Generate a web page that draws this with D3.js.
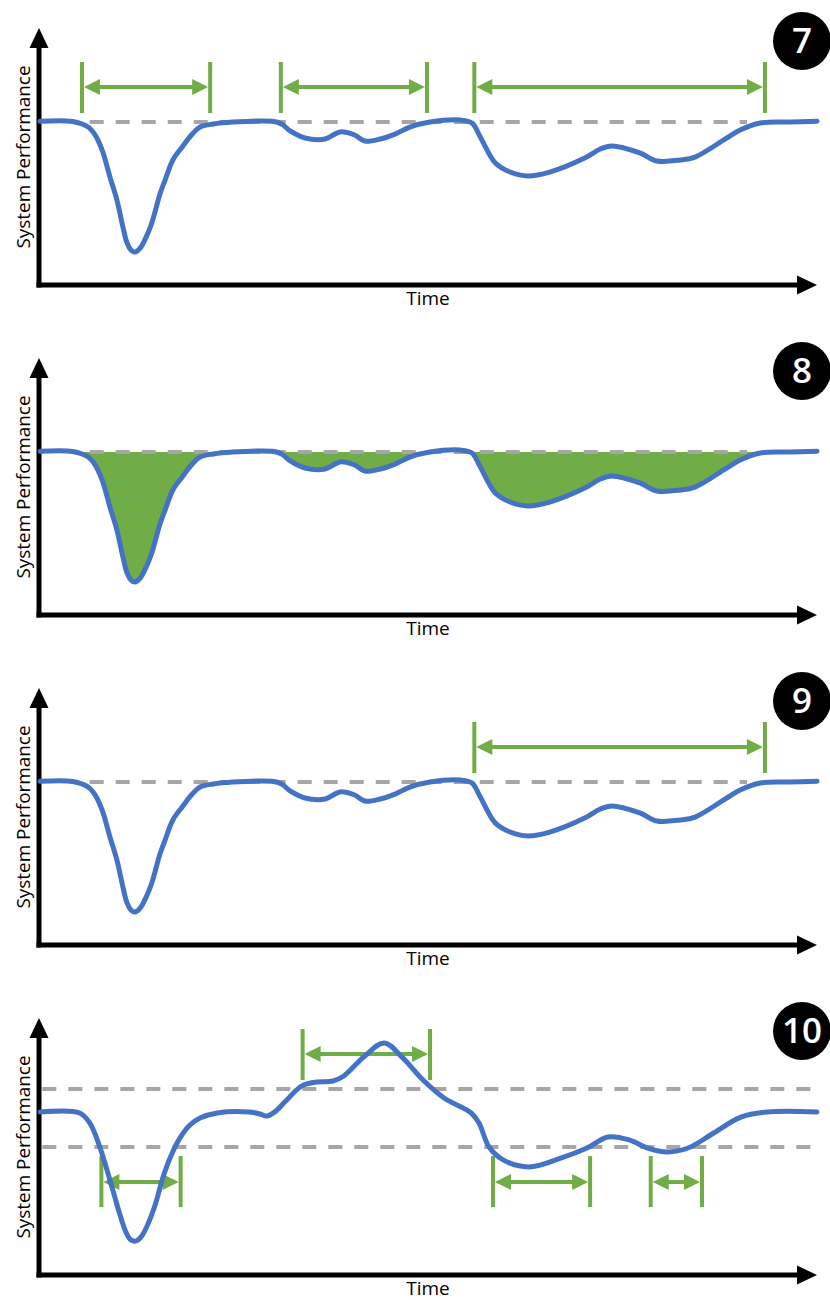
<!DOCTYPE html>
<html>
<head>
  <meta charset="utf-8">
  <title>System Performance over Time</title>
  <style>
    body { margin: 0; background: #ffffff; }
    svg { display: block; }
    text { font-family: "Open Sans", "Noto Sans", sans-serif; }
  </style>
</head>
<body>
  <div id="chart"></div>

  <script src="https://d3js.org/d3.v7.min.js"></script>
  <script>
    // Performance curve used by panels 7, 8 and 9 (time 0-100, target level = 100)
    var curveTime = [0, 4.2, 6.2, 7.1, 8.0, 9.0, 9.9, 10.7, 11.2, 11.7, 12.2, 12.9, 13.6, 14.3, 14.8,
      15.4, 16.1, 17.1, 18.3, 19.6, 20.6, 22.3, 24.8, 29.9, 31.1, 32.2, 34.1, 36.7, 38.6, 40.5,
      41.8, 43.8, 45.7, 47.6, 50.2, 54.1, 55.6, 56.6, 58.6, 60.5, 62.8, 65.6, 70.1, 72.1, 73.6,
      77.2, 79.4, 82.4, 84.3, 88.2, 90.1, 92.7, 96.5, 100];
    var curvePerf = [100.4, 100.3, 96.9, 92.0, 82.8, 66.3, 52.1, 35.0, 25.8, 21.5, 20.2, 22.7, 28.8, 36.8, 44.8,
      55.2, 64.4, 76.7, 84.7, 92.6, 96.9, 98.8, 100, 100.4, 98.8, 94.5, 90.2, 89.6, 93.9, 92.0,
      88.3, 89.6, 92.6, 96.9, 100, 101.2, 99.4, 91.4, 74.8, 69.3, 66.9, 69.3, 77.9, 83.4, 85.3,
      81.0, 76.1, 76.7, 78.5, 89.6, 95.1, 99.4, 100, 100.5];

    // Performance curve of panel 10
    var curve10Time = [0, 5.1, 6.4, 7.7, 9.0, 10.3, 11.1, 11.7, 12.4, 13.1, 14.0, 14.9, 15.8, 16.9,
      18.0, 19.3, 20.6, 22.8, 26.9, 28.3, 29.2, 30.2, 31.5, 33.7, 35.6, 37.7, 39.1, 41.8, 44.3,
      46.6, 49.3, 52.0, 55.5, 56.5, 57.8, 59.6, 62.9, 67.1, 70.4, 73.1, 75.9, 78.2, 80.7, 83.4,
      86.7, 90.2, 93.6, 100];
    var curve10Perf = [100, 99.4, 93.3, 78.5, 58.3, 36.8, 25.8, 21.5, 20.9, 23.9, 32.5, 44.2, 59.5, 73.6,
      84.0, 92.0, 96.3, 99.4, 100, 98.8, 97.5, 100, 106.1, 116, 118.4, 119, 122.1, 134.4, 142.3,
      133.7, 119.6, 108.6, 99.4, 93.3, 78.5, 70.6, 66.3, 71.8, 77.9, 84.7, 82.8, 77.9, 75.5, 77.9,
      87.1, 96.9, 100, 100];

    // Target level and its drawn span (panels 7-9)
    var targetLevel = 100;
    var targetSpan = [6.4, 91.0];

    // Thresholds of panel 10
    var thresholds10 = [78.5, 114.1];

    // Time intervals marked with arrows
    var intervals7 = [[5.4, 21.9], [31.0, 49.8], [55.9, 93.3]];
    var intervals9 = [[55.9, 93.3]];
    var intervals10Upper = [[33.8, 50.2]];
    var intervals10Lower = [[7.9, 18.1], [58.3, 70.8], [78.6, 85.2]];

    var panelLabels = ["7", "8", "9", "10"];

    var width = 830, height = 1300, panelStep = 330;
    var blue = "#4472C4", green = "#70AD47", grey = "#A6A6A6";

    var svg = d3.select("#chart")
      .append("svg")
      .attr("width", width)
      .attr("height", height);

    var x = d3.scaleLinear().domain([0, 100]).range([40, 817]);
    var y = d3.scaleLinear().domain([0, 100]).range([285, 122]);

    var mainData = curveTime.map(function (t, i) { return { t: t, p: curvePerf[i] }; });
    var data10 = curve10Time.map(function (t, i) { return { t: t, p: curve10Perf[i] }; });

    var smooth = d3.curveCatmullRom.alpha(0.5);

    var line = d3.line()
      .x(function (d) { return x(d.t); })
      .y(function (d) { return y(d.p); })
      .curve(smooth);

    // axes with arrow heads, labels and the numbered badge
    function drawFrame(g, label) {
      var x0 = x.range()[0] - 1, yb = y(0);
      g.append("line")
        .attr("x1", x0).attr("y1", yb + 2.5)
        .attr("x2", x0).attr("y2", 45)
        .attr("stroke", "#000").attr("stroke-width", 5);
      g.append("path")
        .attr("d", "M" + x0 + ",28L" + (x0 - 9.5) + ",48L" + (x0 + 9.5) + ",48Z")
        .attr("fill", "#000");
      g.append("line")
        .attr("x1", x0 - 2.5).attr("y1", yb)
        .attr("x2", 800).attr("y2", yb)
        .attr("stroke", "#000").attr("stroke-width", 5);
      g.append("path")
        .attr("d", "M817," + yb + "L797," + (yb - 9.5) + "L797," + (yb + 9.5) + "Z")
        .attr("fill", "#000");

      g.append("text")
        .attr("transform", "translate(30,157) rotate(-90)")
        .attr("text-anchor", "middle")
        .attr("font-size", 19)
        .attr("textLength", 183)
        .attr("lengthAdjust", "spacingAndGlyphs")
        .attr("fill", "#000")
        .text("System Performance");
      g.append("text")
        .attr("x", 428).attr("y", 305)
        .attr("text-anchor", "middle")
        .attr("font-size", 19)
        .attr("fill", "#000")
        .text("Time");

      g.append("circle")
        .attr("cx", 802).attr("cy", 41).attr("r", 29)
        .attr("fill", "#000");
      g.append("text")
        .attr("x", 802).attr("y", 53)
        .attr("text-anchor", "middle")
        .attr("font-size", 35)
        .attr("font-weight", 600)
        .attr("fill", "#fff")
        .text(label);
    }

    function dashed(g, level, span) {
      g.append("line")
        .attr("x1", x(span[0])).attr("x2", x(span[1]))
        .attr("y1", y(level)).attr("y2", y(level))
        .attr("stroke", grey)
        .attr("stroke-width", 4)
        .attr("stroke-dasharray", "14,12");
    }

    // bracket: two ticks and a double-headed arrow; dir -1 above the level, +1 below
    function bracket(g, iv, level, dir) {
      var yRef = y(level);
      var yA = yRef + dir * 9, yB = yRef + dir * 60, yM = yRef + dir * 35;
      var xa = x(iv[0]), xb = x(iv[1]);
      [xa, xb].forEach(function (xx) {
        g.append("line")
          .attr("x1", xx).attr("x2", xx)
          .attr("y1", yA).attr("y2", yB)
          .attr("stroke", green).attr("stroke-width", 4);
      });
      g.append("line")
        .attr("x1", xa + 14).attr("x2", xb - 14)
        .attr("y1", yM).attr("y2", yM)
        .attr("stroke", green).attr("stroke-width", 4);
      var l = xa + 2, r = xb - 2;
      g.append("path")
        .attr("d", "M" + l + "," + yM + "L" + (l + 16) + "," + (yM - 8) + "L" + (l + 16) + "," + (yM + 8) + "Z")
        .attr("fill", green);
      g.append("path")
        .attr("d", "M" + r + "," + yM + "L" + (r - 16) + "," + (yM - 8) + "L" + (r - 16) + "," + (yM + 8) + "Z")
        .attr("fill", green);
    }

    function curvePath(g, data) {
      g.append("path")
        .datum(data)
        .attr("d", line)
        .attr("fill", "none")
        .attr("stroke", blue)
        .attr("stroke-width", 5)
        .attr("stroke-linejoin", "round")
        .attr("stroke-linecap", "round");
    }

    var panels = svg.selectAll("g.panel")
      .data(panelLabels)
      .enter().append("g")
      .attr("class", "panel")
      .attr("transform", function (d, i) { return "translate(0," + (i * panelStep) + ")"; });

    panels.each(function (label, i) {
      var g = d3.select(this);
      drawFrame(g, label);

      if (i === 0) {
        dashed(g, targetLevel, targetSpan);
        intervals7.forEach(function (iv) { bracket(g, iv, targetLevel, -1); });
        curvePath(g, mainData);
      } else if (i === 1) {
        // loss area between the target level and the curve
        svg.append("defs").append("clipPath")
          .attr("id", "belowTarget")
          .append("rect")
          .attr("x", x.range()[0]).attr("y", y(targetLevel))
          .attr("width", x.range()[1] - x.range()[0])
          .attr("height", y(0) - y(targetLevel));
        var area = d3.area()
          .x(function (d) { return x(d.t); })
          .y0(y(targetLevel))
          .y1(function (d) { return y(d.p); })
          .curve(smooth);
        g.append("path")
          .datum(mainData)
          .attr("d", area)
          .attr("clip-path", "url(#belowTarget)")
          .attr("fill", green);
        dashed(g, targetLevel, targetSpan);
        curvePath(g, mainData);
      } else if (i === 2) {
        dashed(g, targetLevel, targetSpan);
        intervals9.forEach(function (iv) { bracket(g, iv, targetLevel, -1); });
        curvePath(g, mainData);
      } else {
        thresholds10.forEach(function (lv) { dashed(g, lv, [0.3, 99.7]); });
        intervals10Upper.forEach(function (iv) { bracket(g, iv, thresholds10[1], -1); });
        intervals10Lower.forEach(function (iv) { bracket(g, iv, thresholds10[0], 1); });
        curvePath(g, data10);
      }
    });
  </script>
</body>
</html>
